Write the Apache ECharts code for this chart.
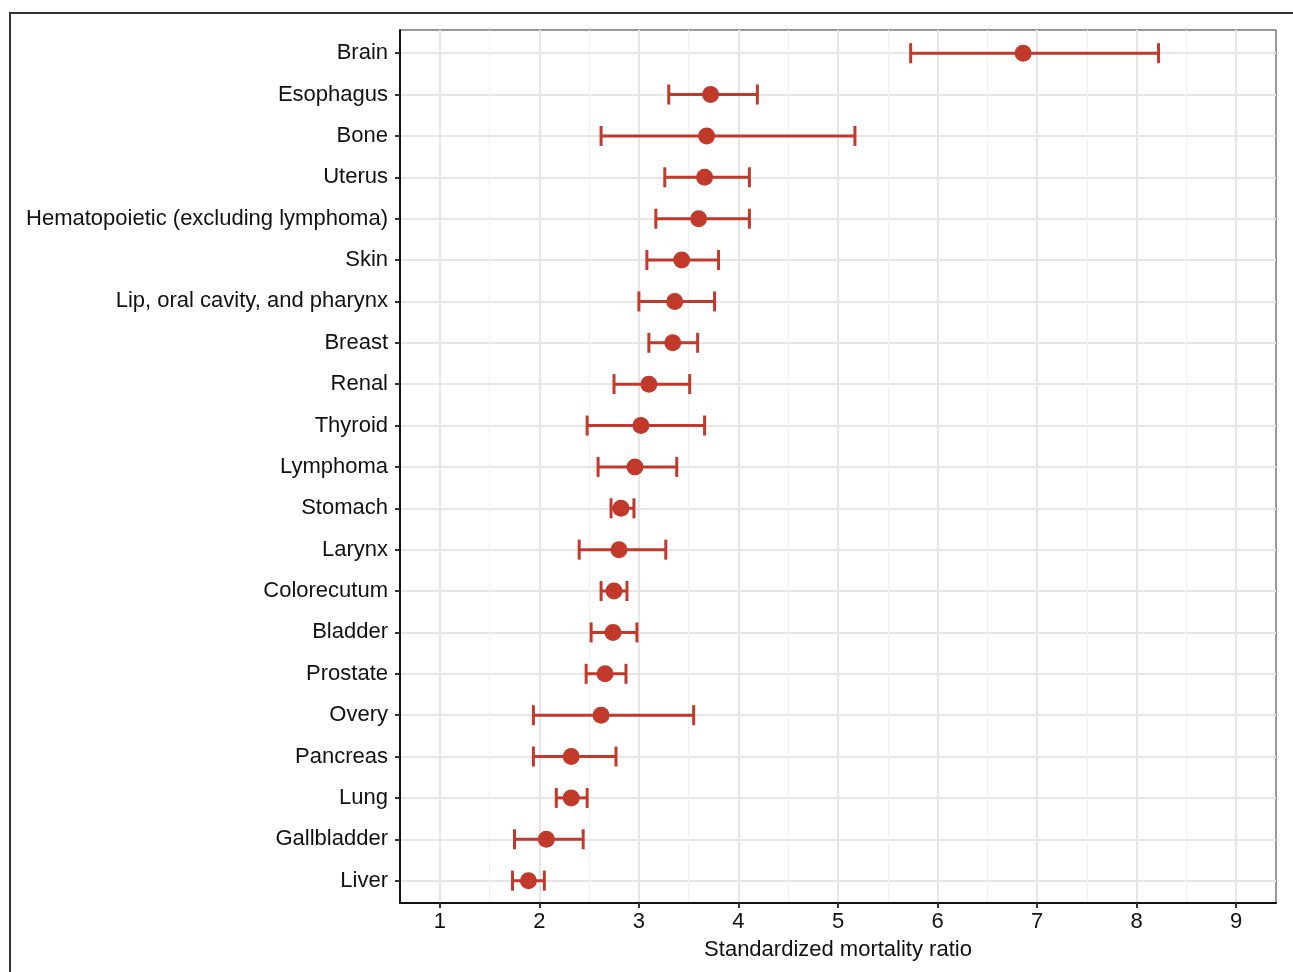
<!DOCTYPE html>
<html>
<head>
<meta charset="utf-8">
<script src="https://cdn.jsdelivr.net/npm/echarts@6/dist/echarts.min.js"></script>
<style>
html,body{margin:0;padding:0;background:#fff;}
#chart{width:1293px;height:972px;}
</style>
</head>
<body>
<div id="chart"></div>
<script>
const categories = ["Brain","Esophagus","Bone","Uterus","Hematopoietic (excluding lymphoma)","Skin","Lip, oral cavity, and pharynx","Breast","Renal","Thyroid","Lymphoma","Stomach","Larynx","Colorecutum","Bladder","Prostate","Overy","Pancreas","Lung","Gallbladder","Liver"];
const smr   = [6.86,3.72,3.68,3.66,3.60,3.43,3.36,3.34,3.10,3.02,2.96,2.82,2.80,2.75,2.74,2.66,2.62,2.32,2.32,2.07,1.89];
const lower = [5.73,3.30,2.62,3.26,3.17,3.08,3.00,3.10,2.75,2.48,2.59,2.72,2.40,2.62,2.52,2.47,1.94,1.94,2.17,1.75,1.73];
const upper = [8.22,4.19,5.17,4.11,4.11,3.80,3.76,3.59,3.51,3.66,3.38,2.95,3.27,2.88,2.98,2.87,3.55,2.77,2.48,2.44,2.05];
const xTicks = [1,2,3,4,5,6,7,8,9];
const xMinorTicks = [1.5,2.5,3.5,4.5,5.5,6.5,7.5,8.5];
const xTitle = "Standardized mortality ratio";

const RED = '#c0392b';
const FONT = '"Liberation Sans", Arial, sans-serif';
const catPos = categories.map((c,i)=>i+1);

const errData = categories.map((c,i)=>[lower[i], upper[i], i+1]);
const ptData = categories.map((c,i)=>[smr[i], i+1]);

const chart = echarts.init(document.getElementById('chart'));
chart.setOption({
  animation:false,
  backgroundColor:'#fff',
  graphic:[{
    type:'rect', left:9, top:12, z:-10,
    shape:{x:0,y:0,width:1320,height:1000},
    style:{fill:'#fff', stroke:'#333', lineWidth:2}
  }],
  grid:{left:400, right:17, top:30, bottom:69, show:true, borderColor:'#333', borderWidth:1, backgroundColor:'transparent'},
  xAxis:[{
    type:'value', min:0.6, max:9.4,
    name:xTitle, nameLocation:'middle', nameGap:36,
    nameTextStyle:{fontFamily:FONT, fontSize:22, color:'#111'},
    axisLine:{show:true, lineStyle:{color:'#111', width:2}},
    axisTick:{show:true, length:5, customValues:xTicks, lineStyle:{color:'#333', width:2}},
    axisLabel:{customValues:xTicks, fontFamily:FONT, fontSize:22, color:'#111', margin:8},
    splitLine:{show:true, lineStyle:{color:'#e6e6e6', width:2}}
  },{
    type:'value', min:0.6, max:9.4, position:'bottom',
    axisLine:{show:false}, axisLabel:{show:false, customValues:xMinorTicks},
    axisTick:{show:false, customValues:xMinorTicks},
    splitLine:{show:true, lineStyle:{color:'#f0f0f0', width:1}}
  }],
  yAxis:{
    type:'value', min:0.44, max:21.54, inverse:true,
    axisLine:{show:true, lineStyle:{color:'#111', width:2}},
    axisTick:{show:true, length:5, customValues:catPos, lineStyle:{color:'#333', width:2}},
    axisLabel:{customValues:catPos, fontFamily:FONT, fontSize:22, color:'#111', margin:12,
      formatter:(v)=>categories[Math.round(v)-1] || ''},
    splitLine:{show:true, lineStyle:{color:'#e6e6e6', width:2}}
  },
  series:[{
    type:'custom',
    xAxisIndex:0,
    data:errData,
    renderItem:(params, api)=>{
      const lo = api.coord([api.value(0), api.value(2)]);
      const hi = api.coord([api.value(1), api.value(2)]);
      const h = 10;
      const st = {stroke:RED, lineWidth:3};
      return {type:'group', children:[
        {type:'line', shape:{x1:lo[0], y1:lo[1], x2:hi[0], y2:hi[1]}, style:st},
        {type:'line', shape:{x1:lo[0], y1:lo[1]-h, x2:lo[0], y2:lo[1]+h}, style:st},
        {type:'line', shape:{x1:hi[0], y1:hi[1]-h, x2:hi[0], y2:hi[1]+h}, style:st}
      ]};
    },
    z:2
  },{
    type:'scatter',
    xAxisIndex:0,
    data:ptData,
    symbol:'circle', symbolSize:17,
    itemStyle:{color:RED, opacity:1},
    z:3
  }]
});
</script>
</body>
</html>
